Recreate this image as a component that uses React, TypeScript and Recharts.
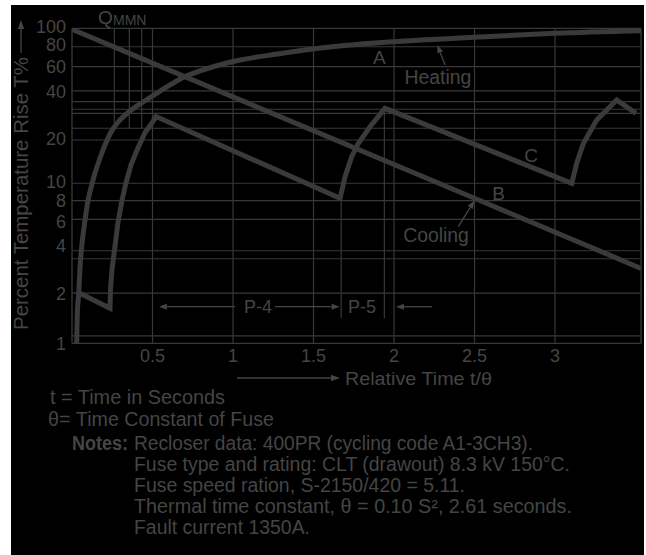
import React from 'react';
import { ComposedChart, Line, XAxis, YAxis, ReferenceLine, ReferenceDot } from 'recharts';

const FONT = '"Liberation Sans", Arial, Helvetica, sans-serif';
const TEXT = '#454545';
const CURVE = '#3a3a3a';
const GRID = '#383838';

const X_MAX = 3.534;
const Y_MIN = 0.96;
const Y_MAX = 100;

const xTicks = [0.5, 1, 1.5, 2, 2.5, 3];
const yTicks = [1, 2, 4, 6, 8, 10, 20, 40, 60, 80, 100];
const gridX = [0.5, 1, 1.5, 2, 2.5, 3];
const gridY = [76.2, 56.8, 39.7, 33.9, 30.3, 28.5, 22.9, 19.25, 10.17, 7.87, 5.98, 3.76, 3.34, 2.01, 1.07];
const qmmnX = [0.263, 0.356, 0.433];
const qmmnBottom = 22.9;

// small nudges of the y tick labels (px), as placed on the hand-drawn original
const yTickNudge: Record<number, number> = { 100: -1.6, 80: 1.6, 60: 3.8, 40: 1.3, 20: 1.6, 10: -2.7, 8: 1.2, 6: 2.8, 4: -1, 1: 2.8 };

// Curve A - heating
const heating = [
  { t: 0.029, v: 0.964 }, { t: 0.033, v: 1.5 }, { t: 0.042, v: 2.02 }, { t: 0.05, v: 2.96 },
  { t: 0.06, v: 3.97 }, { t: 0.081, v: 5.92 }, { t: 0.099, v: 7.83 }, { t: 0.124, v: 10.06 },
  { t: 0.143, v: 11.83 }, { t: 0.174, v: 14.77 }, { t: 0.205, v: 17.88 }, { t: 0.236, v: 21.04 },
  { t: 0.267, v: 23.67 }, { t: 0.298, v: 25.85 }, { t: 0.36, v: 29.53 }, { t: 0.441, v: 33.72 },
  { t: 0.528, v: 38.5 }, { t: 0.609, v: 43.35 }, { t: 0.689, v: 48.4 }, { t: 0.795, v: 53.3 },
  { t: 1.0, v: 61.3 }, { t: 1.298, v: 68.96 }, { t: 1.602, v: 75.9 }, { t: 1.994, v: 82.1 },
  { t: 2.497, v: 87.6 }, { t: 3.0, v: 92.9 }, { t: 3.534, v: 96.5 },
];

// Curve B - cooling
const cooling = [
  { t: 0, v: 98.5 }, { t: 2.5, v: 8.15 }, { t: 3.534, v: 2.9 },
];

// Curve C - cycling
const cycling = [
  { t: 0.042, v: 2.02 }, { t: 0.236, v: 1.61 }, { t: 0.239, v: 2.11 }, { t: 0.248, v: 2.83 },
  { t: 0.264, v: 3.8 }, { t: 0.286, v: 5.74 }, { t: 0.311, v: 7.95 }, { t: 0.335, v: 10.2 },
  { t: 0.366, v: 13.3 }, { t: 0.404, v: 16.6 }, { t: 0.453, v: 21.4 }, { t: 0.488, v: 24.0 },
  { t: 0.522, v: 27.2 }, { t: 1.665, v: 8.15 }, { t: 1.696, v: 11.2 }, { t: 1.737, v: 15.05 },
  { t: 1.778, v: 18.3 }, { t: 1.851, v: 23.4 }, { t: 1.944, v: 30.7 }, { t: 3.104, v: 10.17 },
  { t: 3.135, v: 13.7 }, { t: 3.176, v: 18.3 }, { t: 3.259, v: 25.85 }, { t: 3.383, v: 34.7 },
  { t: 3.503, v: 28.5 },
];

const labels = [
  { text: 'A', t: 1.909, v: 65.2, size: 19 },
  { text: 'Heating', t: 2.273, v: 48.4, size: 19.4 },
  { text: 'C', t: 2.851, v: 15.4, size: 19 },
  { text: 'B', t: 2.649, v: 8.81, size: 19 },
  { text: 'Cooling', t: 2.261, v: 4.71, size: 19.4 },
  { text: 'P-4', t: 1.155, v: 1.647, size: 18 },
  { text: 'P-5', t: 1.801, v: 1.647, size: 18 },
];

const arrows = [
  { from: { x: 2.317, y: 58.2 }, to: { x: 2.269, y: 78.2 } },
  { from: { x: 2.399, y: 5.36 }, to: { x: 2.5, y: 7.88 } },
  { from: { x: 1.012, y: 1.647 }, to: { x: 0.54, y: 1.647 } },
  { from: { x: 1.261, y: 1.647 }, to: { x: 1.662, y: 1.647 } },
  { from: { x: 2.236, y: 1.647 }, to: { x: 2.012, y: 1.647 } },
];

const markers = [
  { t: 1.672, top: 8.2, bottom: 1.388 },
  { t: 1.94, top: 30.7, bottom: 1.388 },
];

const notes = [
  'Recloser data: 400PR (cycling code A1-3CH3).',
  'Fuse type and rating: CLT (drawout) 8.3 kV 150°C.',
  'Fuse speed ration, S-2150/420 = 5.11.',
  'Thermal time constant,  θ = 0.10 S², 2.61 seconds.',
  'Fault current 1350A.',
];
const noteWidths = [399, 436, 331, 438, 176];

function arrowShape(props: any) {
  const { x1, y1, x2, y2 } = props;
  const dx = x2 - x1;
  const dy = y2 - y1;
  const len = Math.hypot(dx, dy) || 1;
  const ux = dx / len;
  const uy = dy / len;
  const L = 8;
  const W = 3;
  const bx = x2 - ux * L;
  const by = y2 - uy * L;
  const pts = `${x2},${y2} ${bx - uy * W},${by + ux * W} ${bx + uy * W},${by - ux * W}`;
  return (
    <g>
      <line x1={x1} y1={y1} x2={bx} y2={by} stroke={TEXT} strokeWidth={1.3} />
      <polygon points={pts} fill={TEXT} />
    </g>
  );
}

function makeLabel(text: string, size: number) {
  return (p: any) => (
    <text x={p.cx} y={p.cy} dy="0.36em" textAnchor="middle" fontSize={size} fill={TEXT} fontFamily={FONT}>
      {text}
    </text>
  );
}

function YTick(p: any) {
  const v = p.payload.value;
  const nudge = yTickNudge[v] || 0;
  return (
    <text x={p.x} y={p.y + nudge} dy="0.355em" textAnchor="end" fontSize={18} fill={TEXT} fontFamily={FONT}>
      {v}
    </text>
  );
}

export default function App() {
  const tickStyle = { fill: TEXT, fontSize: 18, fontFamily: FONT };
  return (
    <div style={{ position: 'absolute', left: 0, top: 0, width: 646, height: 555, background: '#fff' }}>
      <div style={{ position: 'absolute', left: 11, top: 5, width: 633, height: 550, background: '#000' }} />
      <div style={{ position: 'absolute', left: 0, top: 0 }}>
        <ComposedChart width={646} height={555} margin={{ top: 28.3, right: 5, bottom: 181.7, left: 0 }}>
          <XAxis
            type="number"
            dataKey="t"
            domain={[0, X_MAX]}
            ticks={xTicks}
            interval={0}
            allowDataOverflow
            height={30}
            tickSize={4}
            tickMargin={2}
            tickLine={false}
            axisLine={{ stroke: GRID, strokeWidth: 1.3 }}
            tick={tickStyle}
          />
          <YAxis
            type="number"
            scale="log"
            domain={[Y_MIN, Y_MAX]}
            ticks={yTicks}
            interval={0}
            allowDataOverflow
            width={72}
            tickSize={4}
            tickMargin={2}
            tickLine={false}
            axisLine={{ stroke: GRID, strokeWidth: 1.3 }}
            tick={YTick}
          />
          {gridY.map((v) => (
            <ReferenceLine key={'gy' + v} y={v} stroke={GRID} strokeWidth={1.2} ifOverflow="visible" />
          ))}
          {gridX.map((t) => (
            <ReferenceLine key={'gx' + t} x={t} stroke={GRID} strokeWidth={1.2} ifOverflow="visible" />
          ))}
          <ReferenceLine y={Y_MAX} stroke={GRID} strokeWidth={1.3} ifOverflow="visible" />
          <ReferenceLine x={X_MAX} stroke={GRID} strokeWidth={1.3} ifOverflow="visible" />
          {qmmnX.map((t) => (
            <ReferenceLine
              key={'q' + t}
              segment={[{ x: t, y: Y_MAX }, { x: t, y: qmmnBottom }]}
              stroke={GRID}
              strokeWidth={1.2}
              ifOverflow="visible"
            />
          ))}
          {markers.map((m) => (
            <ReferenceLine
              key={'m' + m.t}
              segment={[{ x: m.t, y: m.top }, { x: m.t, y: m.bottom }]}
              stroke={GRID}
              strokeWidth={1.2}
              ifOverflow="visible"
            />
          ))}
          <Line data={heating} dataKey="v" type="monotone" stroke={CURVE} strokeWidth={5} dot={false} activeDot={false} isAnimationActive={false} />
          <Line data={cooling} dataKey="v" type="linear" stroke={CURVE} strokeWidth={5} dot={false} activeDot={false} isAnimationActive={false} />
          <Line data={cycling} dataKey="v" type="linear" stroke={CURVE} strokeWidth={5} strokeLinejoin="miter" dot={false} activeDot={false} isAnimationActive={false} />
          {arrows.map((a, i) => (
            <ReferenceLine key={'a' + i} segment={[a.from, a.to]} shape={arrowShape} ifOverflow="visible" />
          ))}
          {labels.map((l) => (
            <ReferenceDot key={l.text} x={l.t} y={l.v} r={0} ifOverflow="visible" shape={makeLabel(l.text, l.size)} />
          ))}
        </ComposedChart>
      </div>
      <svg
        width={646}
        height={555}
        style={{ position: 'absolute', left: 0, top: 0, pointerEvents: 'none' }}
        fontFamily={FONT}
        fill={TEXT}
      >
        <text x={98} y={23.5} fontSize={19}>Q</text>
        <text x={113} y={25} fontSize={14}>MMN</text>
        <text x={28} y={193.5} fontSize={20} textAnchor="middle" transform="rotate(-90 28 193.5)" textLength={273} lengthAdjust="spacingAndGlyphs">
          Percent Temperature Rise T%
        </text>
        <line x1={21} y1={53} x2={21} y2={27} stroke={TEXT} strokeWidth={1.3} />
        <polygon points="21,20 17.8,29 24.2,29" fill={TEXT} />
        <line x1={237} y1={378} x2={332} y2={378} stroke={TEXT} strokeWidth={1.3} />
        <polygon points="340,378 331,374.8 331,381.2" fill={TEXT} />
        <text x={345} y={384.8} fontSize={19} textLength={147} lengthAdjust="spacingAndGlyphs">Relative Time t/θ</text>
        <text x={50} y={403.8} fontSize={19.4} textLength={175} lengthAdjust="spacingAndGlyphs">t = Time in Seconds</text>
        <text x={48} y={425.8} fontSize={19.4} textLength={226} lengthAdjust="spacingAndGlyphs">θ= Time Constant of Fuse</text>
        <text x={72} y={449.8} fontSize={19.4} fontWeight="bold" textLength={56} lengthAdjust="spacingAndGlyphs">Notes:</text>
        {notes.map((n, i) => (
          <text key={i} x={134} y={449.8 + i * 21} fontSize={19.4} textLength={noteWidths[i]} lengthAdjust="spacingAndGlyphs">
            {n}
          </text>
        ))}
      </svg>
    </div>
  );
}
